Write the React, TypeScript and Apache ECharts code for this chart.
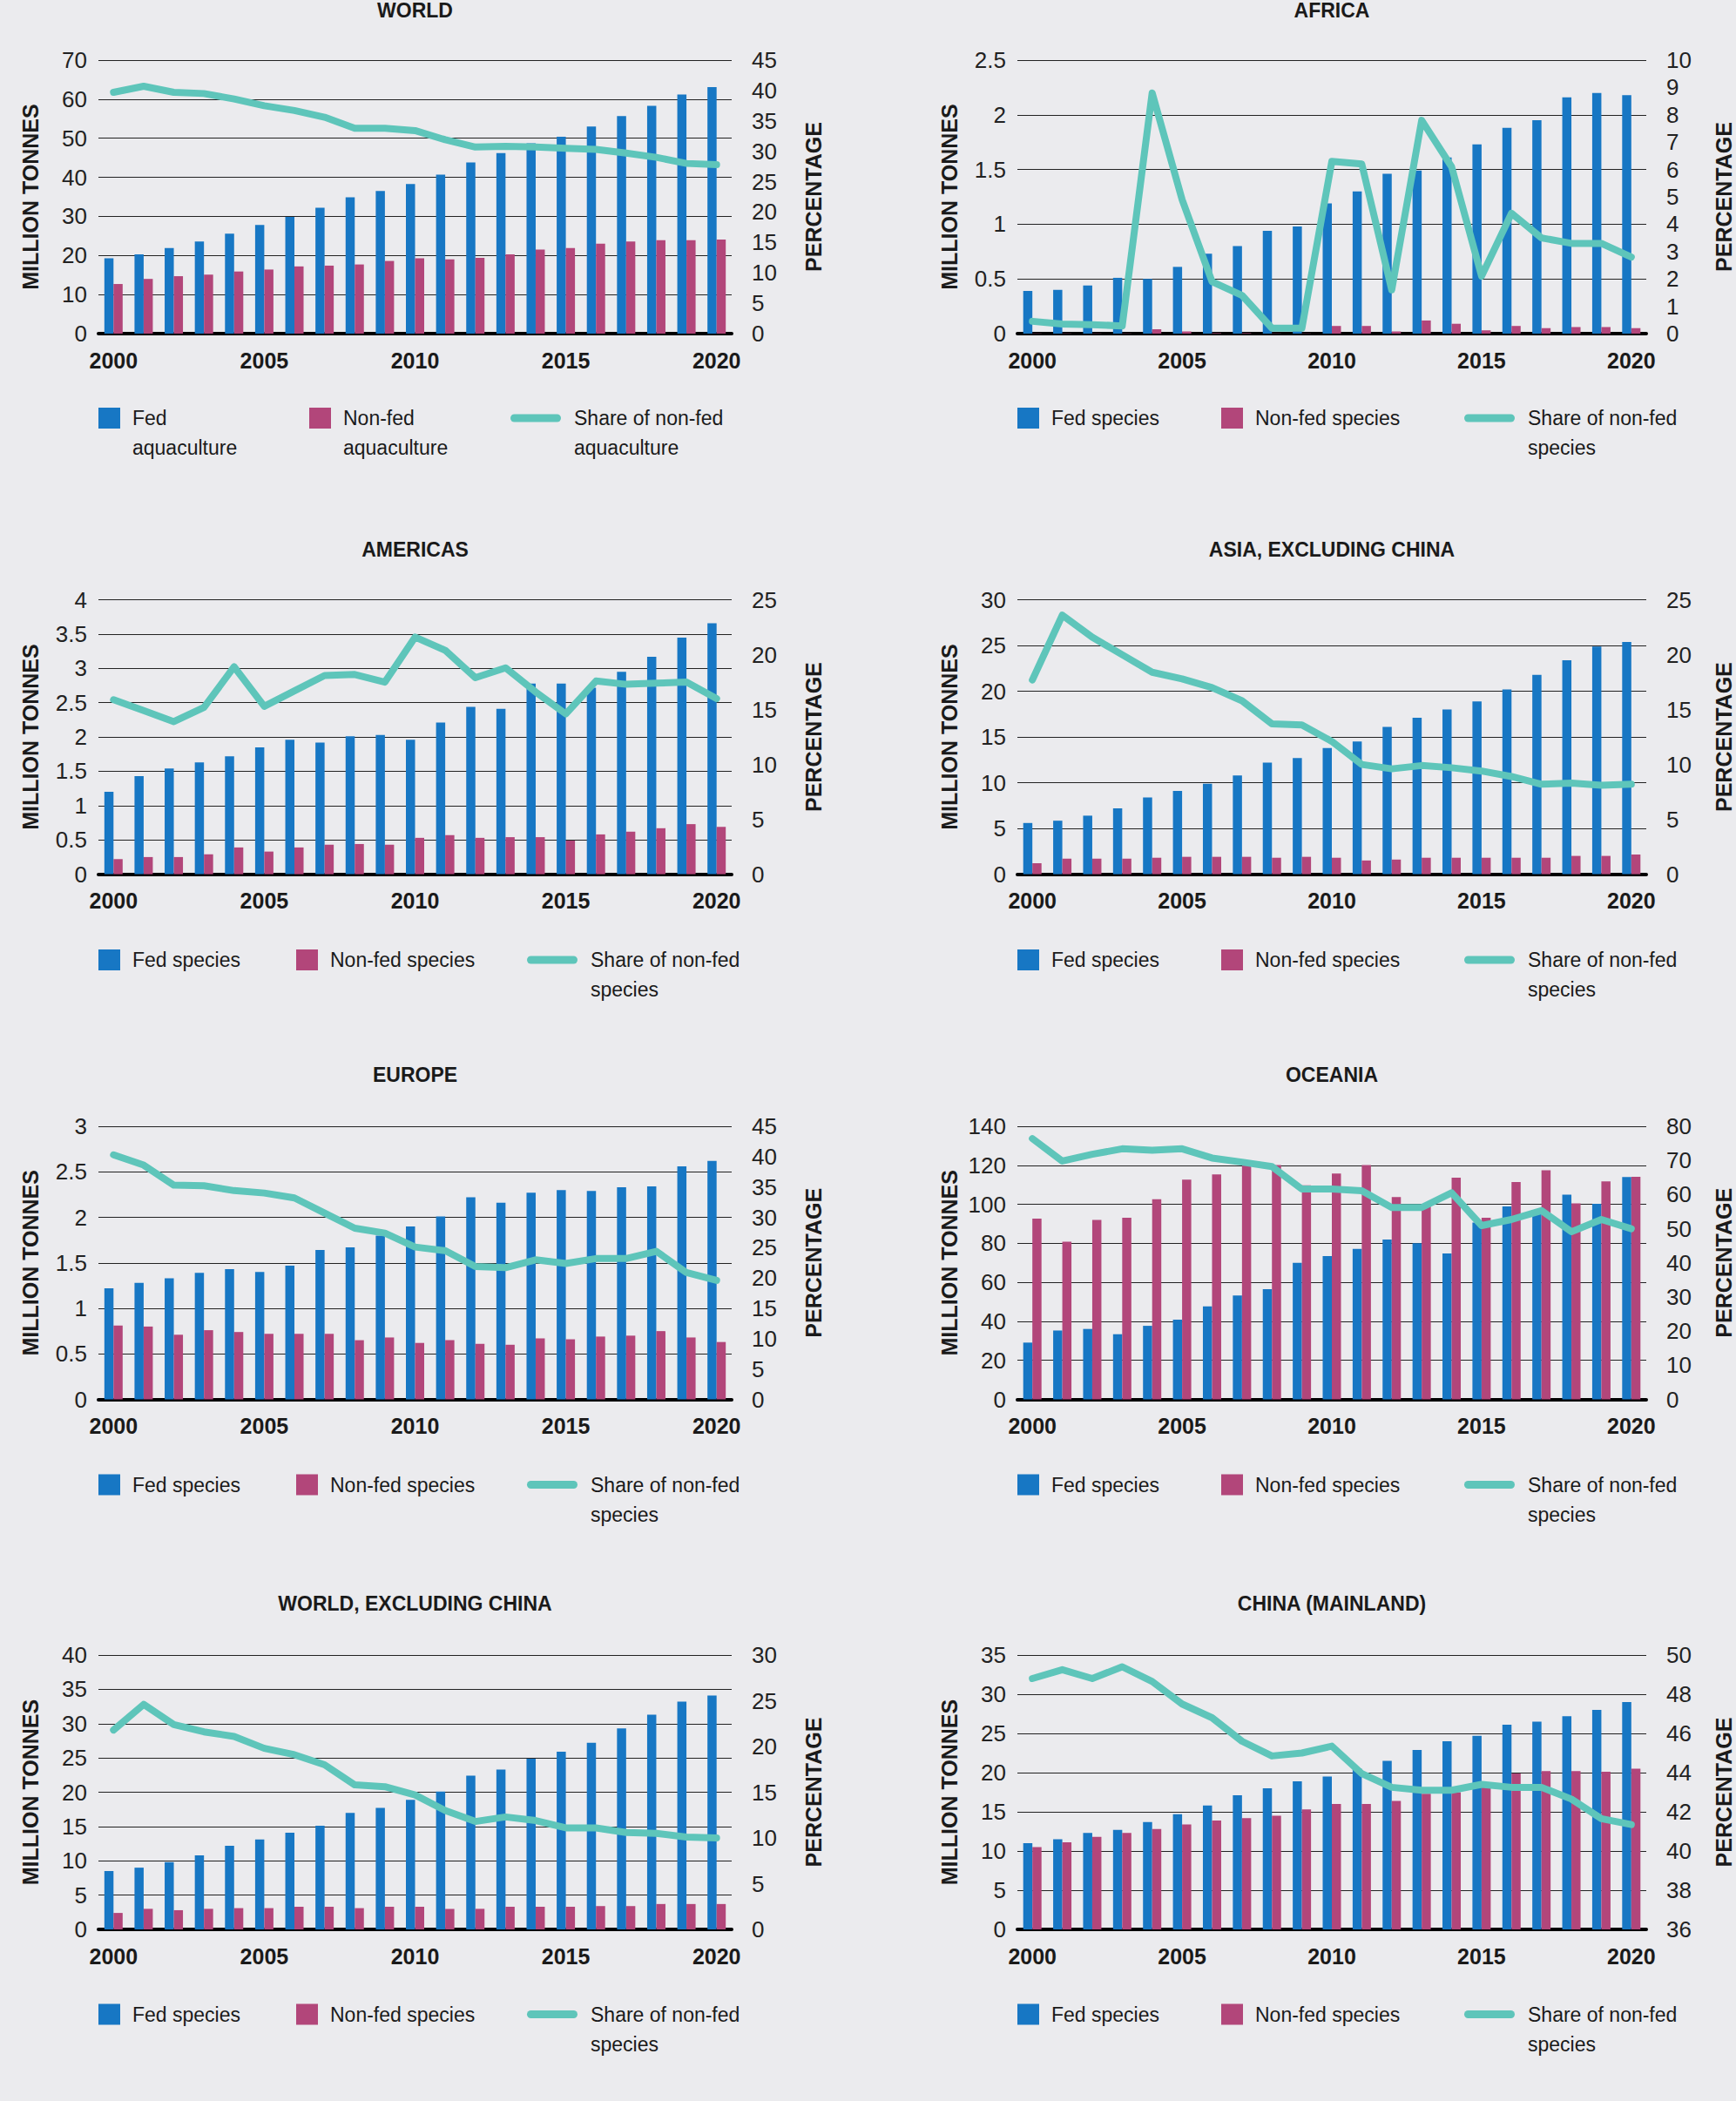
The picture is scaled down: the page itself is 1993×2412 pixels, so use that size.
import React, { useEffect, useRef } from "react";
import * as echarts from "echarts";

const years = ["2000", "2001", "2002", "2003", "2004", "2005", "2006", "2007", "2008", "2009", "2010", "2011", "2012", "2013", "2014", "2015", "2016", "2017", "2018", "2019", "2020"];

const titles = ["WORLD", "AFRICA", "AMERICAS", "ASIA, EXCLUDING CHINA", "EUROPE", "OCEANIA", "WORLD, EXCLUDING CHINA", "CHINA (MAINLAND)"];

const worldFed = [19.3, 20.3, 21.9, 23.6, 25.6, 27.8, 29.9, 32.2, 34.9, 36.5, 38.3, 40.7, 43.8, 46.2, 48.7, 50.4, 53.0, 55.7, 58.3, 61.2, 63.1];
const worldNonFed = [12.7, 14.0, 14.7, 15.1, 15.9, 16.4, 17.2, 17.4, 17.7, 18.6, 19.3, 19.0, 19.4, 20.3, 21.5, 21.9, 23.0, 23.6, 23.9, 23.9, 24.1];
const worldShare = [39.7, 40.7, 39.7, 39.5, 38.6, 37.5, 36.7, 35.6, 33.8, 33.8, 33.4, 31.9, 30.7, 30.8, 30.7, 30.5, 30.3, 29.7, 29.0, 28.0, 27.8];

const africaFed = [0.39, 0.40, 0.44, 0.51, 0.50, 0.61, 0.73, 0.80, 0.94, 0.98, 1.19, 1.30, 1.46, 1.49, 1.61, 1.73, 1.88, 1.95, 2.16, 2.20, 2.18];
const africaNonFed = [0.002, 0.002, 0.002, 0.002, 0.04, 0.02, 0.005, 0.005, 0.002, 0.002, 0.07, 0.07, 0.02, 0.12, 0.09, 0.03, 0.07, 0.05, 0.06, 0.06, 0.05];
const africaShare = [0.45, 0.35, 0.33, 0.28, 8.8, 4.9, 1.9, 1.4, 0.2, 0.2, 6.3, 6.2, 1.6, 7.8, 6.1, 2.1, 4.4, 3.5, 3.3, 3.3, 2.8];

const americasFed = [1.20, 1.43, 1.54, 1.63, 1.72, 1.85, 1.96, 1.92, 2.01, 2.03, 1.96, 2.21, 2.44, 2.41, 2.78, 2.78, 2.72, 2.95, 3.17, 3.45, 3.66];
const americasNonFed = [0.22, 0.25, 0.25, 0.29, 0.39, 0.33, 0.39, 0.43, 0.44, 0.43, 0.53, 0.57, 0.53, 0.54, 0.54, 0.49, 0.58, 0.62, 0.67, 0.73, 0.69];
const americasShare = [15.9, 14.9, 13.9, 15.2, 18.9, 15.3, 16.7, 18.1, 18.2, 17.5, 21.6, 20.4, 17.9, 18.8, 16.6, 14.6, 17.6, 17.3, 17.4, 17.5, 16.0];

const asiaFed = [5.6, 5.85, 6.4, 7.2, 8.4, 9.1, 9.9, 10.8, 12.2, 12.7, 13.8, 14.5, 16.1, 17.1, 18.0, 18.9, 20.2, 21.8, 23.4, 24.9, 25.4];
const asiaNonFed = [1.2, 1.7, 1.7, 1.7, 1.8, 1.9, 1.9, 1.9, 1.8, 1.9, 1.8, 1.5, 1.6, 1.8, 1.8, 1.8, 1.8, 1.8, 2.0, 2.0, 2.15];
const asiaShare = [17.7, 23.6, 21.6, 20.0, 18.4, 17.8, 17.0, 15.8, 13.7, 13.6, 12.1, 10.0, 9.6, 9.9, 9.7, 9.4, 8.9, 8.2, 8.3, 8.1, 8.2];

const europeFed = [1.22, 1.28, 1.33, 1.39, 1.43, 1.40, 1.47, 1.64, 1.67, 1.80, 1.90, 2.01, 2.22, 2.16, 2.27, 2.30, 2.29, 2.33, 2.34, 2.56, 2.62];
const europeNonFed = [0.81, 0.80, 0.71, 0.76, 0.74, 0.72, 0.72, 0.72, 0.65, 0.68, 0.62, 0.65, 0.61, 0.60, 0.67, 0.66, 0.69, 0.70, 0.75, 0.68, 0.63];
const europeShare = [40.3, 38.6, 35.3, 35.2, 34.4, 34.0, 33.2, 30.7, 28.2, 27.4, 25.1, 24.5, 21.9, 21.7, 23.0, 22.4, 23.2, 23.2, 24.4, 20.9, 19.6];

const oceaniaFed = [29.1, 35.3, 36.1, 33.4, 37.7, 40.9, 47.7, 53.3, 56.5, 70.0, 73.5, 77.2, 81.9, 80.0, 74.8, 90.7, 98.9, 95.4, 105.0, 100.2, 114.0];
const oceaniaNonFed = [92.7, 80.8, 92.0, 93.1, 102.6, 112.6, 115.3, 120.1, 120.1, 109.8, 115.8, 120.1, 103.7, 100.2, 113.6, 93.1, 111.4, 117.4, 100.5, 111.7, 114.1];
const oceaniaShare = [76.4, 69.8, 71.8, 73.4, 73.0, 73.4, 70.7, 69.5, 68.2, 61.6, 61.6, 61.1, 56.2, 56.2, 60.5, 50.9, 52.7, 55.3, 49.1, 52.7, 50.0];

const worldExChinaFed = [8.5, 9.0, 9.8, 10.8, 12.2, 13.1, 14.1, 15.1, 17.0, 17.7, 18.9, 20.1, 22.4, 23.3, 24.9, 25.9, 27.2, 29.3, 31.3, 33.2, 34.1];
const worldExChinaNonFed = [2.4, 3.0, 2.8, 3.0, 3.1, 3.1, 3.3, 3.3, 3.1, 3.3, 3.3, 3.0, 3.0, 3.3, 3.3, 3.3, 3.4, 3.4, 3.7, 3.7, 3.7];
const worldExChinaShare = [21.8, 24.6, 22.4, 21.6, 21.1, 19.8, 19.1, 18.0, 15.8, 15.6, 14.7, 13.0, 11.8, 12.3, 11.9, 11.1, 11.1, 10.6, 10.5, 10.1, 10.0];

const chinaFed = [11.0, 11.5, 12.3, 12.7, 13.7, 14.7, 15.8, 17.1, 18.0, 18.9, 19.5, 20.5, 21.5, 22.9, 24.0, 24.7, 26.1, 26.5, 27.2, 28.0, 29.0];
const chinaNonFed = [10.5, 11.1, 11.8, 12.3, 12.8, 13.4, 13.9, 14.2, 14.5, 15.3, 16.0, 16.0, 16.4, 17.3, 17.5, 18.4, 19.9, 20.2, 20.2, 20.1, 20.5];
const chinaShare = [48.8, 49.25, 48.8, 49.4, 48.65, 47.5, 46.8, 45.6, 44.85, 45.0, 45.35, 43.95, 43.25, 43.1, 43.1, 43.4, 43.25, 43.25, 42.65, 41.65, 41.35];

const fedData = [worldFed, africaFed, americasFed, asiaFed, europeFed, oceaniaFed, worldExChinaFed, chinaFed];
const nonFedData = [worldNonFed, africaNonFed, americasNonFed, asiaNonFed, europeNonFed, oceaniaNonFed, worldExChinaNonFed, chinaNonFed];
const shareData = [worldShare, africaShare, americasShare, asiaShare, europeShare, oceaniaShare, worldExChinaShare, chinaShare];

const leftMax = [70, 2.5, 4, 30, 3, 140, 40, 35];
const leftInterval = [10, 0.5, 0.5, 5, 0.5, 20, 5, 5];
const rightMin = [0, 0, 0, 0, 0, 0, 0, 36];
const rightMax = [45, 10, 25, 25, 45, 80, 30, 50];
const rightInterval = [5, 1, 5, 5, 5, 10, 5, 2];

const worldNames = ["Fed aquaculture", "Non-fed aquaculture", "Share of non-fed aquaculture"];
const worldLegendText = ["Fed\naquaculture", "Non-fed\naquaculture", "Share of non-fed\naquaculture"];
const speciesNames = ["Fed species", "Non-fed species", "Share of non-fed species"];
const speciesLegendText = ["Fed species", "Non-fed species", "Share of non-fed\nspecies"];

const FONT = '"Liberation Sans", Arial, sans-serif';
const BLUE = "#1777c4";
const PINK = "#b2467a";
const TEAL = "#5ec5ba";
const BG = "#ebebee";
const INK = "#1a1a1a";
const LINE_ICON = "path://M4.5,0 L53.5,0 A4.5,4.5 0 0 1 53.5,9 L4.5,9 A4.5,4.5 0 0 1 4.5,0 Z";

const W = 1993;
const H = 2412;
const cols = [
  { left: 113, right: 840, legend: [113, 340, 605], rightGap: 81 },
  { left: 1168, right: 1890, legend: [1168, 1402, 1681], rightGap: 76 },
];
const rows = [
  { top: 69, bottom: 383, title: 12, legendY: 480 },
  { top: 688.6, bottom: 1003.6, title: 631, legendY: 1102 },
  { top: 1293, bottom: 1606.5, title: 1234, legendY: 1704.5 },
  { top: 1900, bottom: 2215, title: 1841, legendY: 2312.5 },
];

function buildOption() {
  const grid: any[] = [];
  const xAxis: any[] = [];
  const yAxis: any[] = [];
  const series: any[] = [];
  const title: any[] = [];
  const legend: any[] = [];
  const L = 34;

  for (let i = 0; i < 8; i++) {
    const c = cols[i % 2];
    const r = rows[Math.floor(i / 2)];
    const names = i === 0 ? worldNames : speciesNames;
    const legendText = i === 0 ? worldLegendText : speciesLegendText;
    const legendX = i === 0 ? [113, 355, 586] : c.legend;

    grid.push({ left: c.left, top: r.top, width: c.right - c.left, height: r.bottom - r.top, containLabel: false });
    title.push({
      text: titles[i],
      left: (c.left + c.right) / 2,
      top: r.title,
      textAlign: "center",
      textVerticalAlign: "middle",
      padding: 0,
      textStyle: { fontFamily: FONT, fontSize: 23, lineHeight: 23, fontWeight: "bold", color: INK },
    });
    xAxis.push({
      type: "category",
      gridIndex: i,
      data: years,
      boundaryGap: true,
      axisTick: { show: false },
      axisLine: { show: true, lineStyle: { color: "#000", width: 4 } },
      axisLabel: { interval: 4, margin: 18, fontFamily: FONT, fontSize: 25, fontWeight: "bold", color: INK },
      splitLine: { show: false },
    });
    yAxis.push({
      type: "value",
      gridIndex: i,
      position: "left",
      min: 0,
      max: leftMax[i],
      interval: leftInterval[i],
      name: "MILLION TONNES",
      nameLocation: "middle",
      nameRotate: 90,
      nameGap: 66,
      nameTextStyle: { fontFamily: FONT, fontSize: 25, fontWeight: "bold", color: INK },
      axisLine: { show: false },
      axisTick: { show: false },
      axisLabel: { margin: 13, fontFamily: FONT, fontSize: 26, color: "#222" },
      splitLine: { show: true, lineStyle: { color: "#222", width: 1.2 } },
    });
    yAxis.push({
      type: "value",
      gridIndex: i,
      position: "right",
      min: rightMin[i],
      max: rightMax[i],
      interval: rightInterval[i],
      name: "PERCENTAGE",
      nameLocation: "middle",
      nameRotate: 90,
      nameGap: c.rightGap,
      nameTextStyle: { fontFamily: FONT, fontSize: 25, fontWeight: "bold", color: INK },
      axisLine: { show: false },
      axisTick: { show: false },
      axisLabel: { margin: 23, fontFamily: FONT, fontSize: 26, color: "#222" },
      splitLine: { show: false },
    });
    series.push({
      type: "bar",
      name: names[0],
      xAxisIndex: i,
      yAxisIndex: 2 * i,
      data: fedData[i],
      barWidth: 10.5,
      barGap: "0%",
      itemStyle: { color: BLUE },
    });
    series.push({
      type: "bar",
      name: names[1],
      xAxisIndex: i,
      yAxisIndex: 2 * i,
      data: nonFedData[i],
      barWidth: 10.5,
      barGap: "0%",
      itemStyle: { color: PINK },
    });
    series.push({
      type: "line",
      name: names[2],
      xAxisIndex: i,
      yAxisIndex: 2 * i + 1,
      data: shareData[i],
      symbol: "none",
      color: TEAL,
      z: 5,
      lineStyle: { color: TEAL, width: 8, cap: "round", join: "round" },
      itemStyle: { color: TEAL },
    });

    const colors = [BLUE, PINK, TEAL];
    for (let k = 0; k < 3; k++) {
      const twoLine = legendText[k].indexOf("\n") >= 0;
      const isLine = k === 2;
      // two-line labels: a leading blank line keeps the first line level with the icon
      const shown = twoLine ? "\n" + legendText[k] : legendText[k];
      legend.push({
        data: [{ name: names[k], icon: isLine ? LINE_ICON : "rect", itemStyle: { color: colors[k], borderWidth: 0 } }],
        left: legendX[k],
        top: r.legendY - (twoLine ? 1.5 * L : L / 2),
        orient: "horizontal",
        padding: 0,
        selectedMode: false,
        itemWidth: isLine ? 58 : 25,
        itemHeight: isLine ? 9 : 24,
        formatter: () => shown,
        textStyle: {
          fontFamily: FONT,
          fontSize: 23,
          color: INK,
          lineHeight: L,
          padding: [0, 0, 0, isLine ? 10 : 9],
        },
      });
    }
  }

  return {
    animation: false,
    backgroundColor: BG,
    textStyle: { fontFamily: FONT },
    title,
    legend,
    grid,
    xAxis,
    yAxis,
    series,
  };
}

export default function App() {
  const ref = useRef<HTMLDivElement>(null);
  useEffect(() => {
    if (!ref.current) return;
    const chart = echarts.init(ref.current, undefined, { renderer: "svg", width: W, height: H });
    chart.setOption(buildOption() as any);
    return () => chart.dispose();
  }, []);
  return (
    <div
      ref={ref}
      style={{ position: "absolute", left: 0, top: 0, width: W, height: H, background: BG }}
    />
  );
}
